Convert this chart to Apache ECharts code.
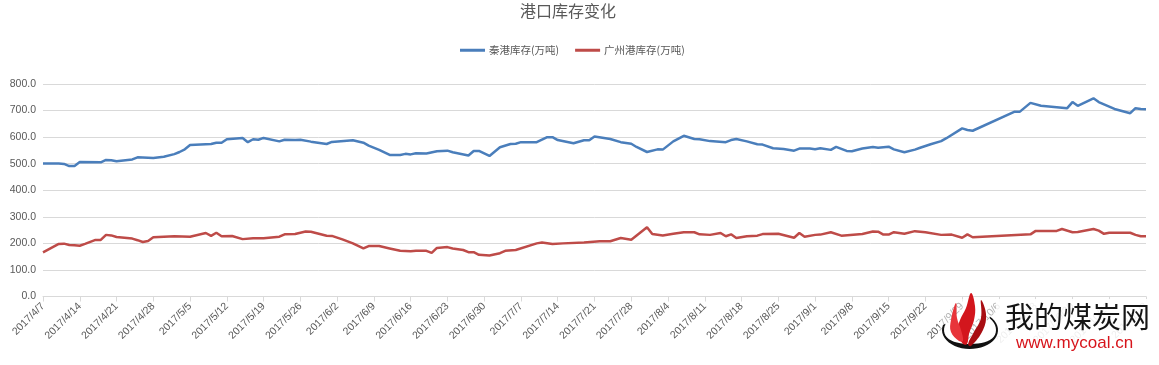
<!DOCTYPE html>
<html>
<head>
<meta charset="utf-8">
<script src="https://cdn.jsdelivr.net/npm/echarts@6/dist/echarts.min.js"></script>
<style>html,body{margin:0;padding:0;background:#fff}#c{width:1159px;height:365px}</style>
</head>
<body>
<div id="c"></div>
<script>
const titleText = '港口库存变化';
const seriesNames = ['秦港库存(万吨)', '广州港库存(万吨)'];
const yTicks = [0, 100, 200, 300, 400, 500, 600, 700, 800];
const axisStart = '4/7';
const axisEnd = '11/3';

const qinDates = ['4/7','4/10','4/11','4/12','4/13','4/14','4/18','4/19','4/20','4/21','4/24','4/25','4/27','4/28','4/30',
'5/2','5/3','5/4','5/5','5/9','5/10','5/11','5/12','5/15','5/16','5/17','5/18','5/19','5/22','5/23','5/25','5/26','5/28','5/31',
'6/1','6/5','6/7','6/8','6/10','6/12','6/14','6/15','6/16','6/17','6/19','6/21','6/23','6/24','6/27','6/28','6/29',
'7/1','7/3','7/5','7/6','7/7','7/10','7/12','7/13','7/14','7/17','7/19','7/20','7/21','7/24','7/26','7/28','7/29','7/31',
'8/2','8/3','8/5','8/7','8/9','8/10','8/12','8/15','8/16','8/17','8/19','8/21','8/22','8/24','8/26','8/28','8/29','8/31',
'9/1','9/2','9/4','9/5','9/7','9/8','9/10','9/12','9/13','9/15','9/16','9/18','9/20','9/21','9/23','9/25','9/26','9/29','9/30',
'10/1','10/9','10/10','10/12','10/14','10/19','10/20','10/21','10/24','10/25','10/27','10/28','10/31','11/1','11/2','11/3'];
const qinValues = [501,501,499,491,491,506,505,514,513,509,516,524,522,521,526,
536,544,554,570,574,579,579,592,597,581,592,590,597,584,590,589,590,583,574,
582,588,579,568,552,533,533,537,535,539,538,547,549,543,531,548,548,
529,562,574,575,581,581,600,600,589,577,588,588,602,593,581,575,563,544,
554,553,584,605,593,592,585,581,589,593,584,573,572,558,555,549,557,557,
554,558,552,563,548,547,557,563,560,564,554,543,553,560,573,585,596,633,627,
624,696,696,729,718,709,732,718,746,732,715,706,690,709,706,705];

const gzDates = ['4/7','4/10','4/11','4/12','4/13','4/14','4/15','4/17','4/18','4/19','4/20','4/21','4/24','4/25','4/26','4/27','4/28',
'5/2','5/5','5/8','5/9','5/10','5/11','5/13','5/15','5/17','5/19','5/22','5/23','5/25','5/27','5/28','5/31',
'6/1','6/3','6/5','6/7','6/8','6/10','6/12','6/14','6/16','6/17','6/19','6/20','6/21','6/23','6/24','6/26','6/27','6/28','6/29',
'7/1','7/3','7/4','7/6','7/10','7/11','7/13','7/15','7/19','7/22','7/24','7/26','7/28','7/31',
'8/1','8/3','8/5','8/7','8/9','8/10','8/12','8/14','8/15','8/16','8/17','8/19','8/21','8/22','8/25','8/28','8/29','8/30',
'9/1','9/2','9/4','9/6','9/10','9/12','9/13','9/14','9/15','9/16','9/18','9/20','9/22','9/25','9/27','9/29','9/30',
'10/1','10/12','10/13','10/17','10/18','10/20','10/21','10/24','10/25','10/26','10/27','10/31','11/1','11/2','11/3'];
const gzValues = [166,198,199,194,193,191,198,213,213,232,230,224,218,212,205,209,223,
227,225,239,228,240,227,228,216,219,219,225,234,235,245,244,229,
228,215,200,181,190,190,181,172,170,172,172,164,183,186,181,175,167,167,157,
154,163,172,175,200,203,198,200,203,208,208,220,214,261,
235,230,236,242,242,234,232,239,227,234,220,227,229,235,236,221,239,225,
232,233,242,229,235,245,244,233,233,242,236,246,242,232,233,221,234,
223,234,247,247,254,242,243,254,248,236,240,240,232,227,227];

const DAY = 86400000;
function toMs(md){ const p = md.split('/'); return Date.UTC(2017, +p[0]-1, +p[1]); }
const t0 = toMs(axisStart);
function off(md){ return Math.round((toMs(md) - t0)/DAY); }
function fmt(v){ const d = new Date(t0 + v*DAY); return '2017/' + (d.getUTCMonth()+1) + '/' + d.getUTCDate(); }

const qinData = qinDates.map((d,i)=>[off(d), qinValues[i]]);
const gzData = gzDates.map((d,i)=>[off(d), gzValues[i]]);

// watermark logo swoosh (decoration)
function crescent(){
  const pts = [];
  const cx = 970, cy = 330;
  for (let a = -45; a <= 200; a += 8) {
    const r = a * Math.PI / 180;
    pts.push([cx + 28 * Math.cos(r), cy + 19 * Math.sin(r)]);
  }
  for (let a = 200; a >= -45; a -= 8) {
    const r = a * Math.PI / 180;
    const k = Math.max(0, Math.sin(r));
    pts.push([cx + 26 * Math.cos(r), cy + (18 - 4 * k) * Math.sin(r)]);
  }
  return pts;
}

const chart = echarts.init(document.getElementById('c'), null, {renderer:'canvas'});
const font = '"Noto Sans CJK SC", "Liberation Sans", sans-serif';
chart.setOption({
  animation: false,
  backgroundColor: '#fff',
  textStyle: { fontFamily: font },
  title: { text: titleText, left: 515, top: -2, textStyle: { fontSize: 16, fontWeight: 'normal', color: '#595959', fontFamily: font } },
  legend: {
    top: 40, left: 455, itemGap: 16, itemWidth: 25, itemHeight: 3, icon: 'rect',
    textStyle: { fontSize: 10.5, color: '#595959', fontFamily: font, padding: [0, 0, 0, -1] },
    data: seriesNames
  },
  grid: { left: 43, right: 13, top: 84, bottom: 68.5, containLabel: false },
  xAxis: {
    type: 'value', min: 0, max: off(axisEnd), interval: 7,
    axisLine: { lineStyle: { color: '#d9d9d9', width: 1 } },
    axisTick: { show: true, length: 5, lineStyle: { color: '#d9d9d9' } },
    splitLine: { show: false },
    axisLabel: { rotate: 45, formatter: fmt, fontSize: 10.5, color: '#595959', margin: 8, fontFamily: '"Liberation Sans", sans-serif', showMaxLabel: true, showMinLabel: true }
  },
  yAxis: {
    type: 'value', min: yTicks[0], max: yTicks[yTicks.length-1], interval: yTicks[1]-yTicks[0],
    axisLine: { show: false }, axisTick: { show: false },
    splitLine: { lineStyle: { color: '#d9d9d9', width: 1 } },
    axisLabel: { formatter: v => v.toFixed(1), fontSize: 10.5, color: '#595959', margin: 7, fontFamily: '"Liberation Sans", sans-serif' }
  },
  series: [
    { name: seriesNames[0], type: 'line', data: qinData, symbol: 'none', lineStyle: { width: 2.5, color: '#4a7ebb' }, itemStyle: { color: '#4a7ebb' } },
    { name: seriesNames[1], type: 'line', data: gzData, symbol: 'none', lineStyle: { width: 2.5, color: '#be4b48' }, itemStyle: { color: '#be4b48' } }
  ],
  graphic: [
    { type: 'rect', shape: { x: 996, y: 299, width: 163, height: 66 }, style: { fill: 'rgba(255,255,255,0.9)' }, z: 100 },
    { type: 'rect', shape: { x: 940, y: 299, width: 56, height: 66 }, style: { fill: 'rgba(255,255,255,0.55)' }, z: 100 },
    { type: 'polygon', shape: { points: crescent() }, style: { fill: '#111' }, z: 101 },
    { type: 'polygon', shape: { points: [[963,344],[957,332],[960,320],[966,308],[971,293],[975,306],[974,320],[969,334],[967,344]], smooth: 0.4 }, style: { fill: '#d3161d' }, z: 102 },
    { type: 'polygon', shape: { points: [[959,341],[951,332],[951,320],[956,303],[957,318],[961,330],[963,341]], smooth: 0.4 }, style: { fill: '#e8343a' }, z: 102 },
    { type: 'polygon', shape: { points: [[968,344],[974,332],[981,318],[981,300],[986,314],[983,330],[971,346]], smooth: 0.4 }, style: { fill: '#a80d12' }, z: 102 },
    { type: 'text', left: 1005, top: 302, style: { text: '我的煤炭网', fontSize: 29, fill: '#151515', fontFamily: '"Noto Sans CJK SC", sans-serif' }, z: 103 },
    { type: 'text', left: 1016, top: 335, style: { text: 'www.mycoal.cn', fontSize: 17, fill: '#d7141b', fontFamily: '"Liberation Sans", Arial, sans-serif' }, z: 103 }
  ]
});
</script>
</body>
</html>
